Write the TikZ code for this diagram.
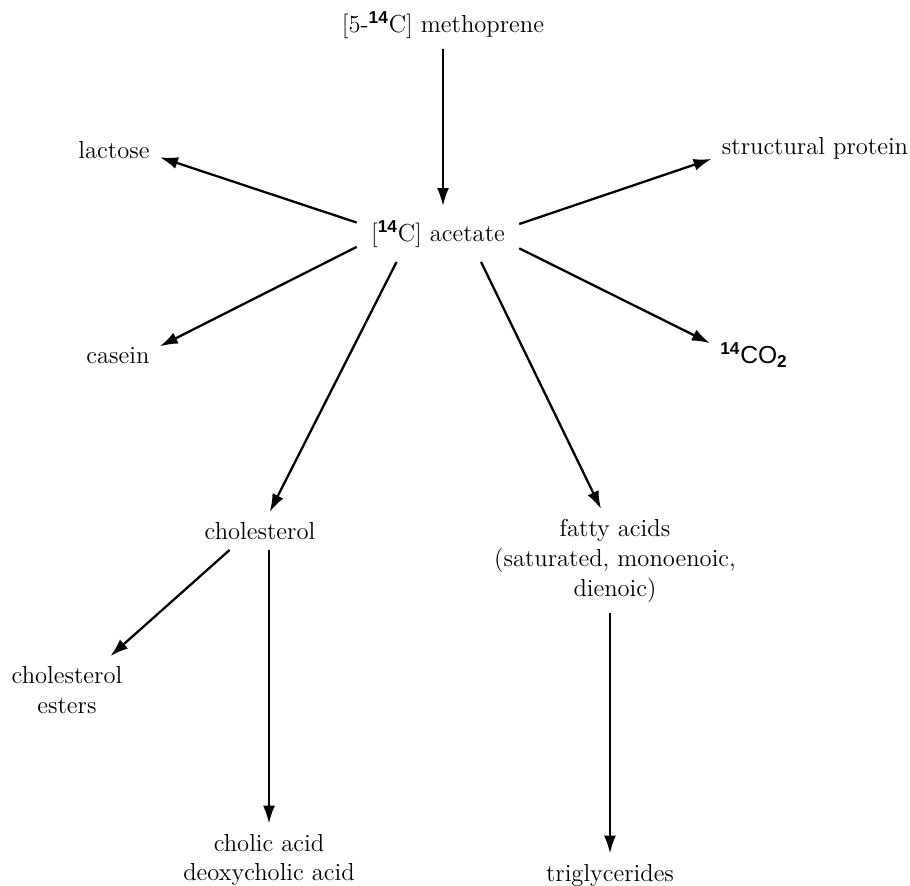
\documentclass[tikz,border=0pt]{standalone}
\usepackage{fontspec}
\newfontfamily\sansf{Liberation Sans}
\usepackage{tikz}
\usetikzlibrary{arrows.meta}
\newcommand{\isoC}{\textsuperscript{\sansf\bfseries 14}}

\begin{document}
\begin{tikzpicture}[
    lbl/.style={shape=rectangle, inner sep=0.2cm, align=center, font=\fontsize{14pt}{17pt}\selectfont},
    flow/.style={-{Latex[length=3.6mm,width=2.4mm]}, line width=1.3pt}]
    		% Paths, nodes and arrows:
    		\useasboundingbox (0,0) rectangle (18.2,17.72);
    		\node[lbl](N1) at (8.86, 17.22){[5-\isoC C] methoprene};
    		\node[lbl, inner sep=0.28cm](N2) at (8.76, 13.04){[\isoC C] acetate};
    		\node[lbl](N3) at (2.28, 14.72){lactose};
    		\node[lbl](N4) at (16.3, 14.76){structural protein};
    		\node[lbl](N5) at (2.36, 10.6){casein};
    		\node[lbl](N6) at (15.08, 10.62){\isoC{\sansf CO}\textsubscript{\sansf\bfseries 2}};
    		\node[lbl](N7) at (5.2, 7.1){cholesterol};
    		\node[lbl](N8) at (12.3, 6.5){fatty acids\\(saturated, monoenoic,\\dienoic)};
    		\node[lbl](N9) at (1.34, 3.92){cholesterol\\esters};
    		\node[lbl](N10) at (5.38, 0.52){cholic acid\\deoxycholic acid};
    		\node[lbl](N11) at (12.2, 0.22){triglycerides};
    		\draw[flow] (N1.south) -- (N1.south |- N2.north);
    		\draw[flow] (N2.172) -- (N3.-9);
    		\draw[flow] (N2.7) -- (N4.186);
    		\draw[flow] (N2.189) -- (N5.13);
    		\draw[flow] (N2.-10) -- (N6.165);
    		\draw[flow] (N2.214) -- (N7.63);
    		\draw[flow] (N2.-33) -- (N8.105);
    		\draw[flow] (N7.212) -- (N9.38);
    		\draw[flow] (N7.south -| N10.north) -- (N10.north);
    		\draw[flow] (N8.south -| N11.north) -- (N11.north);
\end{tikzpicture}
\end{document}
